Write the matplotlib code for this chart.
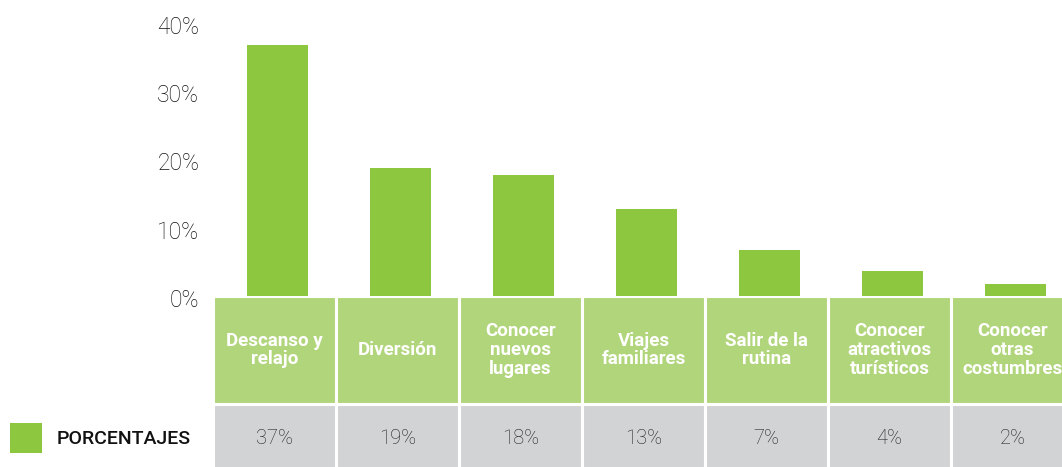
import matplotlib
import matplotlib.pyplot as plt
from matplotlib.patches import Rectangle

matplotlib.use('Agg')

# Datos
categorias = ["Descanso y\nrelajo", "Diversión", "Conocer\nnuevos\nlugares", "Viajes\nfamiliares",
              "Salir de la\nrutina", "Conocer\natractivos\nturísticos", "Conocer\notras\ncostumbres"]
porcentajes = [37, 19, 18, 13, 7, 4, 2]
ticks_y = [0, 10, 20, 30, 40]
serie = "PORCENTAJES"

verde = "#8dc63f"
verde_claro = "#b1d57b"
gris = "#d1d3d4"
W, H = 1062, 467

plt.rcParams['font.family'] = ['Roboto', 'DejaVu Sans']

fig = plt.figure(figsize=(W / 100, H / 100), dpi=100)

# Gráfico de barras
ax = fig.add_axes([216 / W, (H - 298) / H, 861 / W, 273 / H])
x = list(range(len(categorias)))
ax.bar(x, porcentajes, width=0.5, color=verde)
ax.set_xlim(-0.5, len(categorias) - 0.5)
ax.set_ylim(0, 40)
ax.set_yticks(ticks_y)
ax.set_yticklabels([f"{t}%" for t in ticks_y], fontsize=16.5, fontweight='light', color='#111111')
ax.tick_params(axis='y', length=0, pad=12)
ax.set_xticks([])
for s in ax.spines.values():
    s.set_visible(False)

# Tabla debajo
tb = fig.add_axes([213 / W, -5 / H, 861 / W, 176 / H])
tb.set_xlim(-0.5, len(categorias) - 0.5)
tb.set_ylim(0, 176)
tb.axis('off')
for i, (cat, val) in enumerate(zip(categorias, porcentajes)):
    tb.add_patch(Rectangle((i - 0.5, 68), 1, 108, facecolor=verde_claro, edgecolor='white', lw=2.2))
    tb.add_patch(Rectangle((i - 0.5, -10), 1, 78, facecolor=gris, edgecolor='white', lw=2.2))
    tb.text(i, 122, cat, ha='center', va='center', color='white', fontsize=13.5,
            fontweight='bold', linespacing=1.05)
    tb.text(i, 33, f"{val}%", ha='center', va='center', color='#222222', fontsize=14.5,
            fontweight='light')

# Leyenda
fig.patches.append(Rectangle((10 / W, (H - 453) / H), 32 / W, 30 / H, facecolor=verde,
                             transform=fig.transFigure, figure=fig))
fig.text(57 / W, (H - 439) / H, serie, ha='left', va='center', fontsize=14,
         fontweight='medium', color='#111111')

plt.savefig("out.png", dpi=100)
